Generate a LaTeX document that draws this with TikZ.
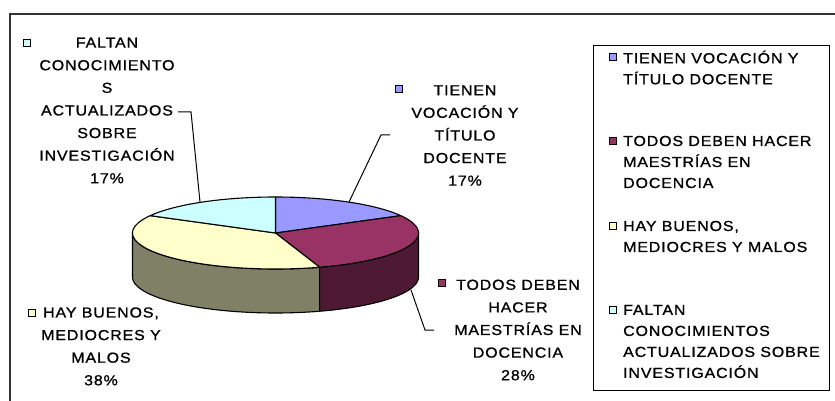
\documentclass[tikz,border=0pt]{standalone}
\usepackage{fontspec}
\setmainfont{Liberation Sans}
\newfontfamily\lblfont[FakeStretch=1.1,LetterSpace=6,FakeBold=1]{Liberation Sans}
\definecolor{cBlue}{HTML}{9999FF}
\definecolor{cMaroon}{HTML}{993366}
\definecolor{cYellow}{HTML}{FFFFCC}
\definecolor{cCyan}{HTML}{CCFFFF}
\definecolor{cMaroonSide}{HTML}{4D1933}
\definecolor{cYellowSide}{HTML}{808066}
\definecolor{frameGrey}{HTML}{333333}
\tikzset{
  slice/.style={draw=black, line width=1.1pt, line join=round},
  lbl/.style={font=\lblfont\fontsize{14.5}{22.6}\selectfont, align=center, inner sep=0pt},
  leg/.style={font=\lblfont\fontsize{14.5}{21}\selectfont, align=left, inner sep=0pt, anchor=west},
  key/.style={draw=black, line width=0.9pt, minimum size=7.5pt, inner sep=0pt},
  leader/.style={draw=black, line width=1pt},
}
\newcommand{\pcx}{275.5}
\newcommand{\pcy}{233}
\newcommand{\prx}{143}
\newcommand{\pry}{36}
\newcommand{\pdz}{44}
\begin{document}
\begin{tikzpicture}[x=1pt,y=-1pt]
\useasboundingbox (0,0) rectangle (835,401);
\fill[white] (0,0) rectangle (835,401);
% outer chart frame (only left and top edges visible)
\draw[frameGrey, line width=2pt] (9.5,402) -- (9.5,14) -- (836,14);

% pie sides
\draw[slice, fill=cYellowSide]
  plot[domain=180:288,samples=60] ({\pcx+\prx*cos(\x)},{\pcy-\pry*sin(\x)})
  -- plot[domain=288:180,samples=60] ({\pcx+\prx*cos(\x)},{\pcy+\pdz-\pry*sin(\x)}) -- cycle;
\draw[slice, fill=cMaroonSide]
  plot[domain=288:360,samples=40] ({\pcx+\prx*cos(\x)},{\pcy-\pry*sin(\x)})
  -- plot[domain=360:288,samples=40] ({\pcx+\prx*cos(\x)},{\pcy+\pdz-\pry*sin(\x)}) -- cycle;
% pie top
\coordinate (pc) at (\pcx,\pcy);
\draw[slice, fill=cBlue] (pc) -- plot[domain=90:28.8,samples=40] ({\pcx+\prx*cos(\x)},{\pcy-\pry*sin(\x)}) -- cycle;
\draw[slice, fill=cMaroon] (pc) -- plot[domain=28.8:-72,samples=60] ({\pcx+\prx*cos(\x)},{\pcy-\pry*sin(\x)}) -- cycle;
\draw[slice, fill=cYellow] (pc) -- plot[domain=288:151.2,samples=80] ({\pcx+\prx*cos(\x)},{\pcy-\pry*sin(\x)}) -- cycle;
\draw[slice, fill=cCyan] (pc) -- plot[domain=151.2:90,samples=40] ({\pcx+\prx*cos(\x)},{\pcy-\pry*sin(\x)}) -- cycle;

% data labels
\node[lbl] (lF) at (107,110.5) {FALTAN\\CONOCIMIENTO\\S\\ACTUALIZADOS\\SOBRE\\INVESTIGACIÓN\\17\%};
\node[key, fill=cCyan] (kF) at (27,43) {};
\node[lbl] (lT) at (465,135.5) {TIENEN\\VOCACIÓN Y\\TÍTULO\\DOCENTE\\17\%};
\node[key, fill=cBlue] (kT) at (399,89) {};
\node[lbl] (lH) at (101,346.4) {HAY BUENOS,\\MEDIOCRES Y\\MALOS\\38\%};
\node[key, fill=cYellow] (kH) at (32,313) {};
\node[lbl] (lD) at (518,330) {TODOS DEBEN\\HACER\\MAESTRÍAS EN\\DOCENCIA\\28\%};
\node[key, fill=cMaroon] (kD) at (442,283) {};

% leader lines
\coordinate (aF) at (200,202);
\coordinate (eF1) at (191,112);
\coordinate (eF2) at (178,112);
\draw[leader] (aF) -- (eF1) -- (eF2);
\coordinate (aT) at (349,202);
\coordinate (eT1) at (381,135);
\coordinate (eT2) at (390,135);
\draw[leader] (aT) -- (eT1) -- (eT2);
\coordinate (aD) at (411,290);
\coordinate (eD1) at (425,330);
\coordinate (eD2) at (434,330);
\draw[leader] (aD) -- (eD1) -- (eD2);

% legend
\node[draw=black, line width=1pt, minimum width=236pt, minimum height=345pt, anchor=north west, inner sep=0pt] (legbox) at (593,45) {};
\node[key, fill=cBlue] (g1) at (613,57) {};
\node[leg] (t1) at (623,67.5) {TIENEN VOCACIÓN Y\\TÍTULO DOCENTE};
\node[key, fill=cMaroon] (g2) at (613,141) {};
\node[leg] (t2) at (623,162) {TODOS DEBEN HACER\\MAESTRÍAS EN\\DOCENCIA};
\node[key, fill=cYellow] (g3) at (613,226) {};
\node[leg] (t3) at (623,236.5) {HAY BUENOS,\\MEDIOCRES Y MALOS};
\node[key, fill=cCyan] (g4) at (613,310) {};
\node[leg] (t4) at (623,341.5) {FALTAN\\CONOCIMIENTOS\\ACTUALIZADOS SOBRE\\INVESTIGACIÓN};
\end{tikzpicture}
\end{document}
